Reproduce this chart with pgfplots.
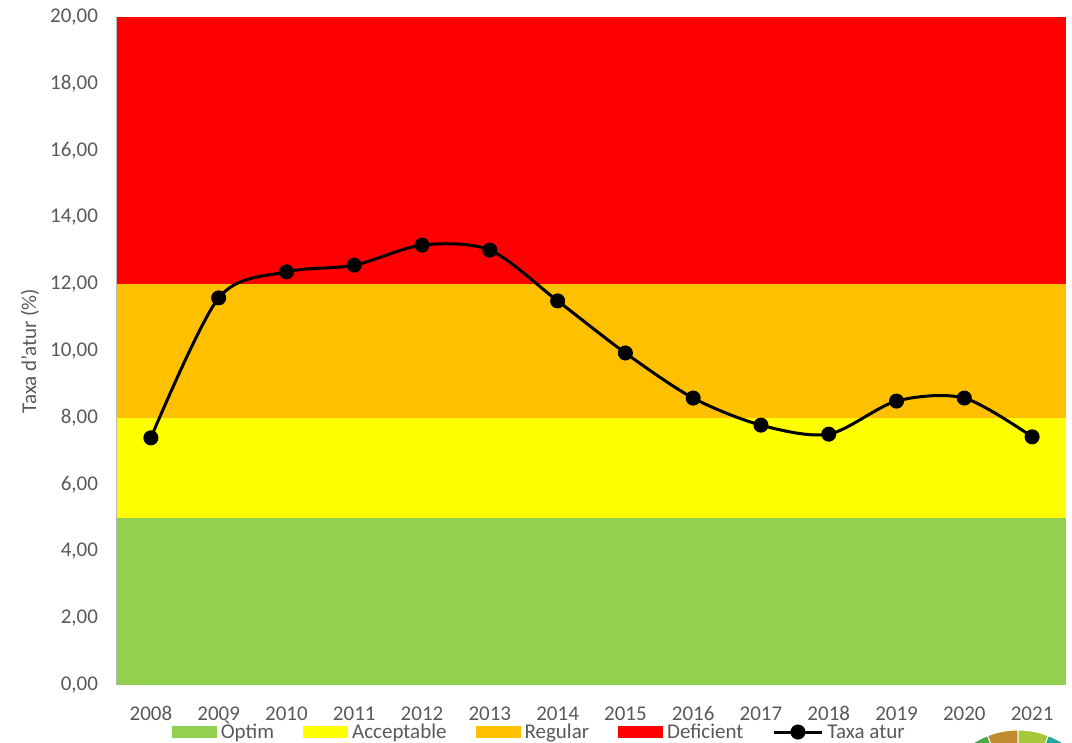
\documentclass[border=0pt]{standalone}
\usepackage{pgfplots}
\pgfplotsset{compat=1.18}
\usepackage{fontspec}
\setmainfont{Carlito}
\definecolor{txt}{HTML}{595959}
\definecolor{cgreen}{HTML}{92D050}
\definecolor{cyellow}{HTML}{FFFF00}
\definecolor{corange}{HTML}{FFC000}
\definecolor{cred}{HTML}{FF0000}
\definecolor{sdgA}{HTML}{4CA84A}
\definecolor{sdgB}{HTML}{BF8B2E}
\definecolor{sdgC}{HTML}{A8C83A}
\definecolor{sdgD}{HTML}{20A89A}
\pgfplotsset{
  bandleg/.style={legend image code/.code={\fill[##1] (0pt,-3pt) rectangle (22.5pt,3pt);}},
  lineleg/.style={legend image code/.code={\draw[black, line width=1.5pt] (0pt,0pt) -- (24pt,0pt);
     \fill[black] (12pt,0pt) circle (3pt);}},
}
\begin{document}
\begin{tikzpicture}[x=1pt,y=1pt]
\useasboundingbox (0,0) rectangle (536,371.5);
\begin{axis}[
  at={(58.5pt,29pt)}, anchor=south west,
  scale only axis, width=474.5pt, height=334pt,
  xmin=-0.5, xmax=13.5, ymin=0, ymax=20,
  xtick={0,...,13},
  xticklabels={2008,2009,2010,2011,2012,2013,2014,2015,2016,2017,2018,2019,2020,2021},
  ytick={0,2,...,20},
  major tick length=0pt,
  axis x line*=bottom,
  axis y line*=left,
  x axis line style={draw=none},
  y axis line style={-, draw=gray!55, line width=0.8pt},
  /pgf/number format/.cd, fixed, fixed zerofill, precision=2, use comma, assume math mode=true,
  /pgfplots/.cd,
  tick label style={font=\fontsize{10.5}{12}\selectfont, text=txt},
  yticklabel style={xshift=-6pt},
  xticklabel style={yshift=-6.5pt, text height=1.6ex, text depth=0.2ex, anchor=north},
  ylabel={Taxa d’atur (\%)},
  ylabel style={font=\fontsize{10.5}{12}\selectfont, text=txt, at={(axis description cs:-0.0917,0.5)}, anchor=center},
  legend columns=5,
  legend style={at={(0.446,-0.0704)}, anchor=center, draw=none, fill=none,
    font=\fontsize{10.5}{12}\selectfont, text=txt,
    nodes={text height=1.7ex, text depth=0.3ex},
    /tikz/every even column/.append style={column sep=12.5pt},
    inner sep=0pt, row sep=0pt},
  legend cell align=left,
  clip=false,
]
\addplot[fill=cgreen, draw=none, bandleg]
  coordinates {(-0.5,0) (-0.5,5) (13.5,5) (13.5,0)} -- cycle;
\addlegendentry{Òptim}
\addplot[fill=cyellow, draw=none, bandleg]
  coordinates {(-0.5,5) (-0.5,8) (13.5,8) (13.5,5)} -- cycle;
\addlegendentry{Acceptable}
\addplot[fill=corange, draw=none, bandleg]
  coordinates {(-0.5,8) (-0.5,12) (13.5,12) (13.5,8)} -- cycle;
\addlegendentry{Regular}
\addplot[fill=cred, draw=none, bandleg]
  coordinates {(-0.5,12) (-0.5,20) (13.5,20) (13.5,12)} -- cycle;
\addlegendentry{Deficient}
\addplot[black, line width=1.5pt, smooth, tension=0.5, mark=*, mark size=3pt, lineleg]
  coordinates {
  (0,7.40) (1,11.59) (2,12.37) (3,12.57) (4,13.17) (5,13.02) (6,11.50)
  (7,9.94) (8,8.59) (9,7.78) (10,7.51) (11,8.50) (12,8.59) (13,7.43)};
\addlegendentry{Taxa atur}
\end{axis}
% decorative partial logo wheel at the bottom right corner
\begin{scope}
\clip (0,0) rectangle (536,371.5);
\foreach \a/\b/\c in {111.2/132.4/sdgA, 90/111.2/sdgB, 68.8/90/sdgC, 47.6/68.8/sdgD, 26.4/47.6/sdgA}{
  \fill[\c, draw=white, line width=0.5pt] (509,-35.5) -- ++(\a:42) arc[start angle=\a, end angle=\b, radius=42] -- cycle;
}
\end{scope}
\end{tikzpicture}
\end{document}
